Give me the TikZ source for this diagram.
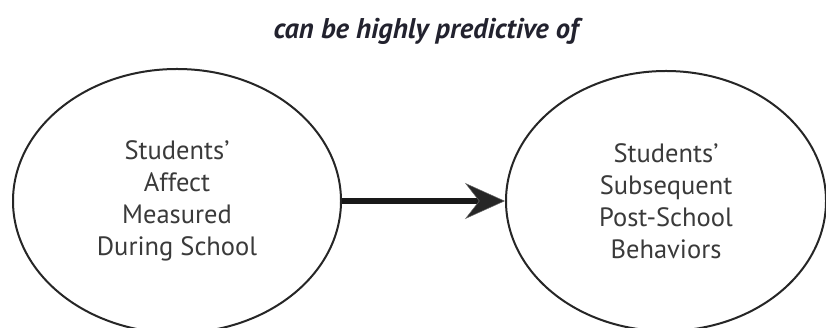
\documentclass[tikz,border=0pt]{standalone}
\usepackage{fontspec}
\setmainfont{PT Sans}
\usetikzlibrary{shapes.geometric,arrows.meta}
\definecolor{titlecol}{HTML}{22222E}
\definecolor{txtcol}{HTML}{3A3A3A}
\tikzset{
  oval/.style={ellipse, draw=black!85, line width=2pt, inner sep=0pt,
    align=center, text=txtcol, font=\fontsize{26.5}{32}\selectfont},
  bigarrow/.style={line width=6pt, draw=black!90,
    -{Stealth[length=40pt,width=36pt,inset=14pt,fill=black!85,color=black!60,line width=0.5pt]}}
}
\begin{document}
\begin{tikzpicture}[x=1pt,y=1pt]
\useasboundingbox (0,0) rectangle (826,328);
\clip (0,0) rectangle (826,328);
\fill[white] (0,0) rectangle (826,328);
\node[font=\fontsize{28.5}{32}\selectfont\bfseries\itshape, text=titlecol] (title) at (426,297) {can be highly predictive of};
\node[oval, minimum width=328pt, minimum height=264pt] (a) at (177,127)
  {Students’\\Affect\\Measured\\During School};
\node[oval, minimum width=320pt, minimum height=260pt] (b) at (666,127)
  {Students’\\Subsequent\\Post-School\\Behaviors};
\draw[bigarrow] (a.east) -- (b.west);
\end{tikzpicture}
\end{document}
